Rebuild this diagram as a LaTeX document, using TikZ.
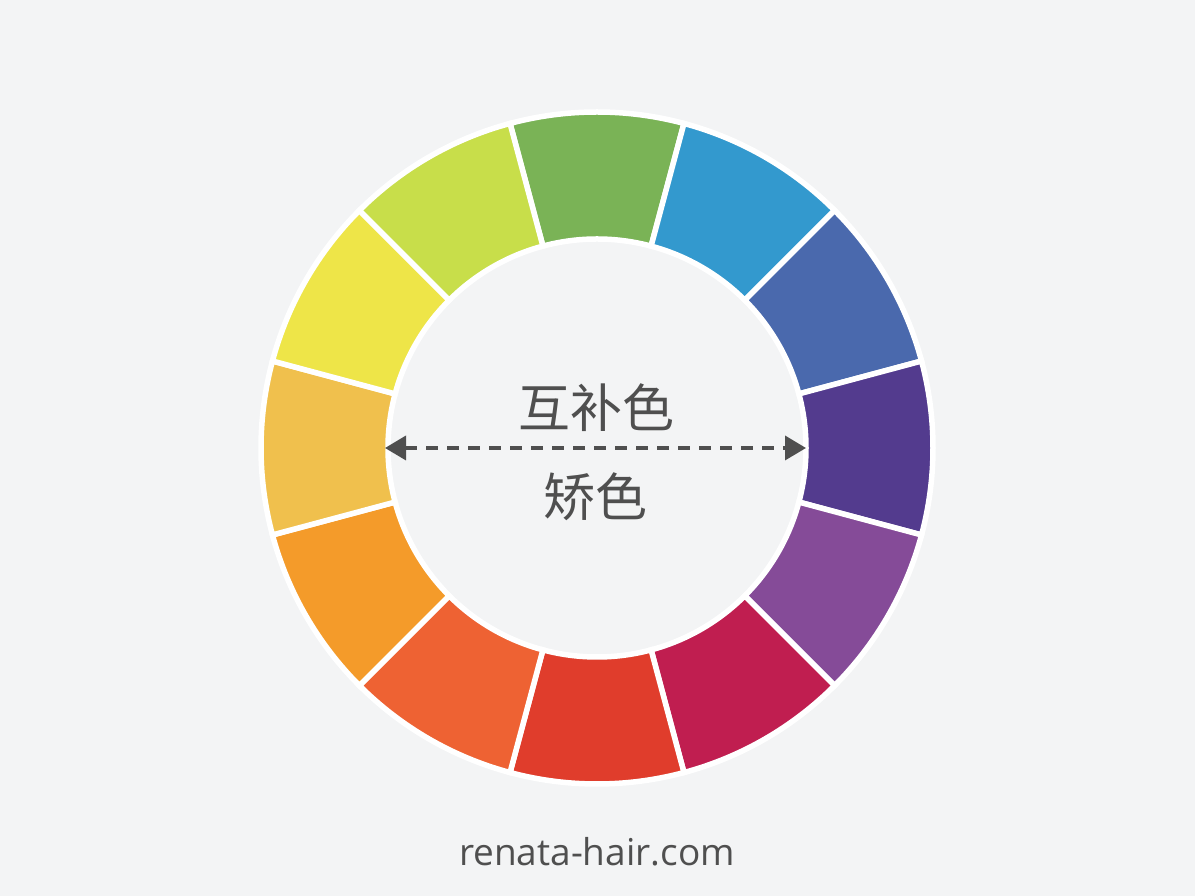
\documentclass[tikz,border=0pt]{standalone}
\usepackage{fontspec}
\setmainfont{Open Sans}
\newfontfamily\cjk{Noto Sans CJK SC}
\usetikzlibrary{arrows.meta,calc}
\definecolor{bg}{HTML}{F3F4F5}
\definecolor{txt}{HTML}{4F4F4F}
\definecolor{cA}{HTML}{7AB356}
\definecolor{cB}{HTML}{3399CE}
\definecolor{cC}{HTML}{4A69AD}
\definecolor{cD}{HTML}{533B8E}
\definecolor{cE}{HTML}{854B98}
\definecolor{cF}{HTML}{C01E50}
\definecolor{cG}{HTML}{E03D2C}
\definecolor{cH}{HTML}{EE6233}
\definecolor{cI}{HTML}{F49B2A}
\definecolor{cJ}{HTML}{F0C04D}
\definecolor{cK}{HTML}{EEE548}
\definecolor{cL}{HTML}{C8DE4A}
\tikzset{
  seg/.style={fill=#1, draw=white, line width=5.5pt, line join=miter},
  lbl/.style={text=txt, inner sep=0pt, font=\cjk\fontsize{52}{60}\selectfont},
}
\begin{document}
\begin{tikzpicture}[x=1pt,y=1pt]
\fill[bg] (0,0) rectangle (1195,896);
\useasboundingbox (0,0) rectangle (1195,896);
\coordinate (c) at (597,448);
\foreach \a/\col in {90/cA,60/cB,30/cC,0/cD,-30/cE,-60/cF,-90/cG,-120/cH,-150/cI,-180/cJ,-210/cK,-240/cL}{
  \draw[seg=\col] ($(c)+(\a-15:336)$) arc[start angle=\a-15, end angle=\a+15, radius=336]
     -- ($(c)+(\a+15:209)$) arc[start angle=\a+15, end angle=\a-15, radius=209] -- cycle;
}
\node[lbl] (t1) at (596,488) {互补色};
\node[lbl] (t2) at (595,399) {矫色};
\coordinate (al) at (385,448);
\coordinate (ar) at (806,448);
\draw[txt, line width=3.6pt, dash pattern=on 12pt off 9pt, {Triangle[length=21pt,width=24pt]}-{Triangle[length=21pt,width=24pt]}] (al) -- (ar);
\node[text=txt, inner sep=0pt, font=\fontsize{37}{44}\selectfont] (url) at (597,44) {renata-hair.com};
\end{tikzpicture}
\end{document}
